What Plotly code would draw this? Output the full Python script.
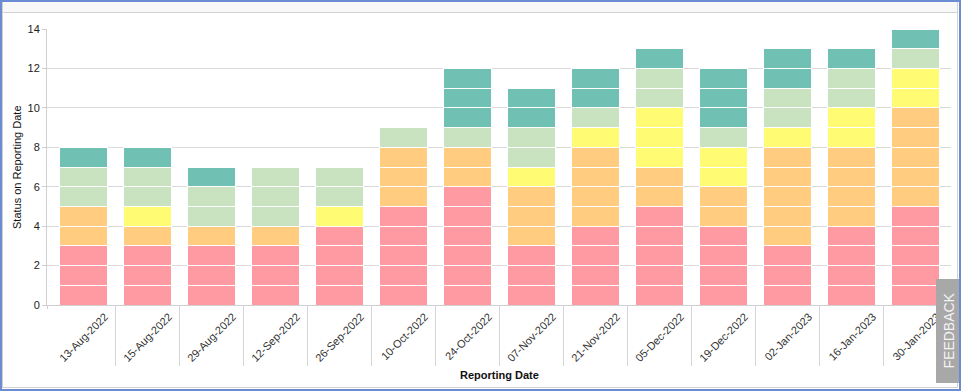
import plotly.graph_objects as go

# ---- data ----
dates = ["13-Aug-2022", "15-Aug-2022", "29-Aug-2022", "12-Sep-2022", "26-Sep-2022",
         "10-Oct-2022", "24-Oct-2022", "07-Nov-2022", "21-Nov-2022", "05-Dec-2022",
         "19-Dec-2022", "02-Jan-2023", "16-Jan-2023", "30-Jan-2023"]
red    = [3, 3, 3, 3, 4, 5, 6, 3, 4, 5, 4, 3, 4, 5]
amber  = [2, 1, 1, 1, 0, 3, 2, 3, 4, 2, 2, 5, 4, 5]
yellow = [0, 1, 0, 0, 1, 0, 0, 1, 1, 3, 2, 1, 2, 2]
lgreen = [2, 2, 2, 3, 2, 1, 1, 2, 1, 2, 1, 2, 2, 1]
teal   = [1, 1, 1, 0, 0, 0, 3, 2, 2, 1, 3, 2, 1, 1]
y_ticks = [0, 2, 4, 6, 8, 10, 12, 14]

series = [("Red", red, "#FF9AA2"), ("Amber", amber, "#FFCC80"),
          ("Yellow", yellow, "#FFFB73"), ("Light green", lgreen, "#C9E2BF"),
          ("Teal", teal, "#70C1B3")]

W, H = 961, 391
ML, MR, MT, MB = 47, 10, 29, 86
PW, PH = W - ML - MR, H - MT - MB


def px(x):
    return (x - ML) / PW


def py(y):
    return (H - MB - y) / PH


fig = go.Figure()
# each status drawn unit by unit so every item gets a white separator
for name, vals, col in series:
    for k in range(max(vals)):
        fig.add_trace(go.Bar(
            x=dates,
            y=[1 if v > k else None for v in vals],
            name=name, marker=dict(color=col, line=dict(color="white", width=1)),
            showlegend=False, hovertemplate=name + "<extra></extra>"))

font = "Liberation Sans, Arial, sans-serif"
fig.update_layout(
    width=W, height=H, barmode="stack", bargap=0.25,
    margin=dict(l=ML, r=MR, t=MT, b=MB, autoexpand=False),
    paper_bgcolor="white", plot_bgcolor="white",
    font=dict(family=font, size=11, color="#222"),
    xaxis=dict(type="category", range=[-0.5625, 13.5625], tickson="boundaries",
               ticks="outside", ticklen=60, tickcolor="#d6d6d6", tickwidth=1,
               showline=True, linecolor="#d0d0d0", showgrid=False,
               tickangle=-45, tickfont=dict(size=11, color="#333"),
               ticklabelstandoff=0, ticklabelshift=22, automargin=False),
    yaxis=dict(range=[0, 14], tickvals=y_ticks, showgrid=True, gridcolor="#d9d9d9",
               gridwidth=1, zeroline=False, showline=True, linecolor="#d0d0d0",
               ticks="outside", ticklen=4, tickcolor="#d0d0d0",
               tickfont=dict(size=11, color="#222"), automargin=False),
)

annotations = [
    dict(text="Status on Reporting Date", x=px(17), y=0.5, xref="paper", yref="paper",
         textangle=-90, showarrow=False, font=dict(size=11, color="#111"),
         xanchor="center", yanchor="middle"),
    dict(text="<b>Reporting Date</b>", x=px(499), y=py(375), xref="paper", yref="paper",
         showarrow=False, font=dict(size=11, color="#111"),
         xanchor="center", yanchor="middle"),
    dict(text="FEEDBACK", x=px(948.5), y=py(331), xref="paper", yref="paper",
         textangle=-90, showarrow=False, font=dict(size=14, color="#f4f4f4"),
         xanchor="center", yanchor="middle"),
]

shapes = [
    # hide the first boundary separator (the reference has only the axis stub there)
    dict(type="line", xref="paper", yref="paper", x0=px(51), x1=px(51), y0=py(306), y1=py(367),
         line=dict(color="white", width=3), layer="above"),
    dict(type="line", xref="paper", yref="paper", x0=px(47.5), x1=px(47.5), y0=py(305), y1=py(309),
         line=dict(color="#d0d0d0", width=1), layer="above"),
    # top strip
    dict(type="rect", xref="paper", yref="paper", x0=px(1), x1=px(958), y0=py(1), y1=py(12),
         fillcolor="#f8f8f8", line=dict(width=0), layer="above"),
    dict(type="line", xref="paper", yref="paper", x0=px(2), x1=px(958), y0=py(12.5), y1=py(12.5),
         line=dict(color="#d2d2d2", width=1), layer="above"),
    dict(type="line", xref="paper", yref="paper", x0=px(2.5), x1=px(2.5), y0=py(1), y1=py(388),
         line=dict(color="#d2d2d2", width=1), layer="above"),
    dict(type="line", xref="paper", yref="paper", x0=px(957.5), x1=px(957.5), y0=py(1), y1=py(388),
         line=dict(color="#d2d2d2", width=1), layer="above"),
    dict(type="line", xref="paper", yref="paper", x0=px(2), x1=px(958), y0=py(387.5), y1=py(387.5),
         line=dict(color="#d2d2d2", width=1), layer="above"),
    # feedback tab
    dict(type="rect", xref="paper", yref="paper", x0=px(936), x1=px(961), y0=py(279), y1=py(383),
         fillcolor="#a8a8a8", line=dict(width=0), layer="above"),
    # outer blue frame
    dict(type="rect", xref="paper", yref="paper", x0=px(1), x1=px(960), y0=py(1), y1=py(390),
         line=dict(color="#6B8BD3", width=2), layer="above"),
]
fig.update_layout(annotations=annotations, shapes=shapes)

fig.write_html("out.html", config={"displayModeBar": False},
               post_script="document.body.style.margin='0';document.body.style.overflow='hidden';")
